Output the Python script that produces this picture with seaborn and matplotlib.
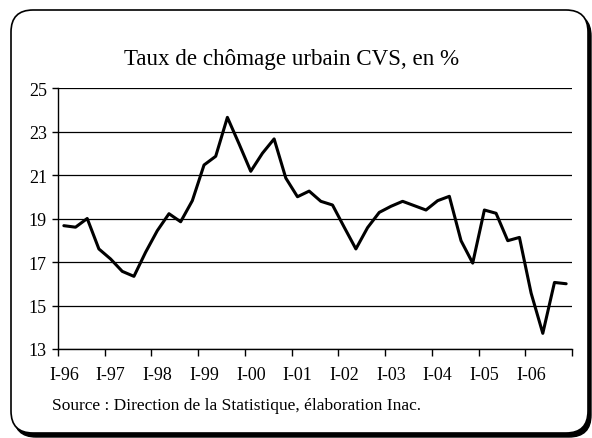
import numpy as np
import pandas as pd
import matplotlib
matplotlib.use("Agg")
import matplotlib.pyplot as plt
import seaborn as sns
from matplotlib.patches import FancyBboxPatch
from matplotlib.transforms import IdentityTransform

# Taux de chômage urbain CVS, trimestriel, I-96 à IV-06
annees = ["96", "97", "98", "99", "00", "01", "02", "03", "04", "05", "06"]
trimestres = [f"{q}-{a}" for a in annees for q in ["I", "II", "III", "IV"]]
taux = [18.67, 18.6, 19.0, 17.6,
        17.14, 16.57, 16.34, 17.45,
        18.44, 19.22, 18.85, 19.82,
        21.46, 21.86, 23.65, 22.43,
        21.17, 22.0, 22.66, 20.86,
        20.0, 20.26, 19.79, 19.62,
        18.6, 17.6, 18.58, 19.28,
        19.56, 19.79, 19.59, 19.39,
        19.82, 20.02, 17.98, 16.95,
        19.39, 19.24, 17.98, 18.13,
        15.57, 13.72, 16.06, 16.0]
etiquettes = ["I-" + a for a in annees]

df = pd.DataFrame({"trimestre": trimestres, "taux": taux})
df["pos"] = np.arange(len(df)) + 0.5

sns.set_style("white")
plt.rcParams["font.family"] = ["Liberation Serif", "DejaVu Serif"]
plt.rcParams["text.color"] = "black"
plt.rcParams["xtick.color"] = "black"
plt.rcParams["ytick.color"] = "black"

fig = plt.figure(figsize=(5.92, 4.39), dpi=100)

# cadre arrondi avec ombre (coordonnées en pixels)
ombre = FancyBboxPatch((14, 1), 577, 423,
                       boxstyle="round,pad=0,rounding_size=22",
                       transform=IdentityTransform(), facecolor="black",
                       edgecolor="black", zorder=-2)
cadre = FancyBboxPatch((11, 5), 577, 423,
                       boxstyle="round,pad=0,rounding_size=22",
                       transform=IdentityTransform(), facecolor="white",
                       edgecolor="black", linewidth=1.2, zorder=-1)
fig.patches.extend([ombre, cadre])

ax = fig.add_axes([58 / 592, 1 - 350 / 439, 514 / 592, 261 / 439])
ax.set_zorder(2)
ax.set_facecolor("none")
sns.lineplot(data=df, x="pos", y="taux", color="black", linewidth=2.2, ax=ax)

ax.set_xlim(0, len(taux))
ax.set_ylim(13, 25)
ax.set_yticks(range(13, 26, 2))
ax.yaxis.grid(True, color="black", linewidth=0.9)
ax.set_axisbelow(True)

ax.set_xticks(np.arange(0, len(taux) + 1, 4))
ax.set_xticklabels([])
ax.set_xticks(np.arange(0.5, len(taux), 4), minor=True)
ax.set_xticklabels(etiquettes, minor=True)
ax.tick_params(axis="x", which="major", direction="out", length=5, width=1, color="black", bottom=True)
ax.tick_params(axis="x", which="minor", length=0, pad=12, labelsize=13)
ax.tick_params(axis="y", direction="out", length=4, width=1, color="black", left=True, labelsize=13, pad=4)

for s in ["top", "right"]:
    ax.spines[s].set_visible(False)
for s in ["left", "bottom"]:
    ax.spines[s].set_color("black")
    ax.spines[s].set_linewidth(1)

ax.set_xlabel("")
ax.set_ylabel("")

fig.text(0.493, 1 - 60 / 439, "Taux de chômage urbain CVS, en %", ha="center", va="center", fontsize=16.6)
fig.text(52 / 592, 1 - 406 / 439, "Source : Direction de la Statistique, élaboration Inac.",
         ha="left", va="center", fontsize=12.5)

fig.savefig("out.png", dpi=100)
